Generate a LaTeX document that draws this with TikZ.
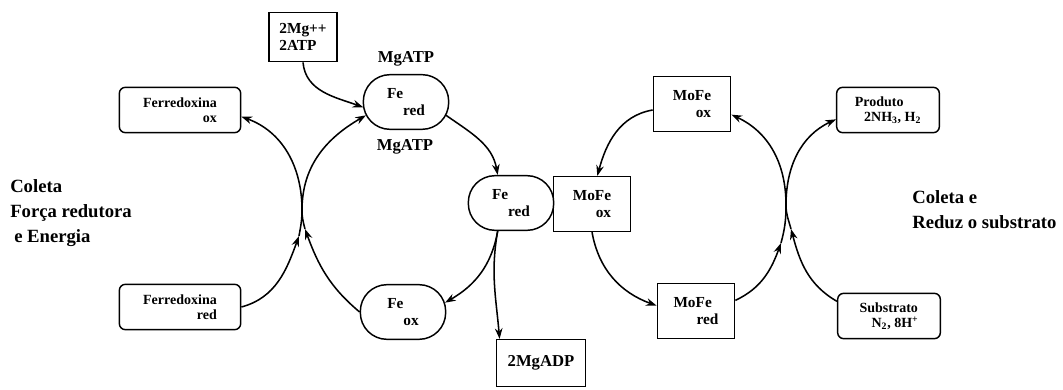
\documentclass[tikz,border=0pt]{standalone}
\usepackage{fontspec}
\setmainfont{Liberation Serif}
\usepackage{tikz}
\usetikzlibrary{arrows.meta, positioning}

\begin{document}
\begin{tikzpicture}[x=0.75pt, y=0.75pt,
    every node/.style={font=\bfseries\fontsize{11.5}{13}\selectfont},
    softbox/.style={draw, rounded corners=4.5pt, line width=1.1pt, font=\bfseries\fontsize{10.5}{11.5}\selectfont},
    febox/.style={draw, rounded corners=20pt, line width=1.1pt, minimum width=64pt, minimum height=41pt, align=left},
    mofebox/.style={draw, line width=1.1pt, minimum width=58pt, minimum height=41pt, align=right},
    sidetext/.style={align=left, inner sep=0pt, font=\bfseries\fontsize{14}{19}\selectfont},
    flow/.style={-{Stealth[length=2.8mm, width=2mm]}, line width=1.15pt}]
  \useasboundingbox (0,0) rectangle (1063,389);

  \node[softbox, minimum width=91pt, minimum height=34pt, align=right] (fdxox) at (180,279) {Ferredoxina\\ox};
  \node[softbox, minimum width=91pt, minimum height=34pt, align=right] (fdxred) at (180,82) {Ferredoxina\\red};
  \node[draw, line width=1.1pt, minimum width=51pt, minimum height=37pt, align=left] (mgin) at (303,352) {2Mg++\\2ATP};
  \node[febox] (fetop) at (406,287) {Fe\\\hspace*{12pt}red};
  \node[font=\bfseries\fontsize{12.5}{13}\selectfont] (mgatpup) at (406,330) {MgATP};
  \node[font=\bfseries\fontsize{12.5}{13}\selectfont] (mgatpdown) at (405,242) {MgATP};
  \node[febox] (femid) at (511,186) {Fe\\\hspace*{12pt}red};
  \node[febox] (feox) at (403,77) {Fe\\\hspace*{12pt}ox};
  \node[draw, line width=1.1pt, minimum width=67pt, minimum height=35pt, font=\bfseries\fontsize{12.5}{13}\selectfont] (adp) at (541,26) {2MgADP};
  \node[mofebox] (mofetop) at (692,285) {MoFe\\ox};
  \node[mofebox] (mofemid) at (592,185) {MoFe\\ox};
  \node[mofebox] (mofered) at (696,78) {MoFe\hspace*{5pt}\\red};
  \node[softbox, minimum width=77pt, minimum height=34pt, align=left] (prod) at (888,279) {Produto\\\hspace*{7pt}2NH\textsubscript{3}, H\textsubscript{2}};
  \node[softbox, minimum width=77pt, minimum height=34pt, align=left] (subs) at (889,73) {Substrato\\\hspace*{9pt}N\textsubscript{2}, 8H\textsuperscript{+}};
  \node[sidetext, anchor=north west] (leftnote) at (10,210) {Coleta\\Força redutora\\\hspace*{3pt}e Energia};
  \node[sidetext, anchor=north west] (rightnote) at (912,199) {Coleta e\\Reduz o substrato};

  \coordinate (crossL) at (302,179);
  \coordinate (tipLa) at (299,153);
  \coordinate (tipLb) at (305,160);
  \coordinate (crossR) at (786,184);
  \coordinate (tipRa) at (781,146);
  \coordinate (tipRb) at (791,160);

  \draw[flow] (fdxred.east) to[out=15, in=-110] (tipLa);
  \draw[flow] (tipLa) to[out=80, in=-90] (crossL) to[out=90, in=210] ([shift={(2.5pt,-10pt)}]fetop.west);
  \draw[flow] (feox.west) to[out=140, in=-70] (tipLb);
  \draw[flow] (tipLb) to[out=105, in=-90] (crossL) to[out=90, in=-20] ([yshift=-5pt]fdxox.east);
  \draw[flow] (mgin.south) to[out=-85, in=160] ([shift={(0.5pt,-4pt)}]fetop.west);
  \draw[flow] ([shift={(-2.5pt,-10pt)}]fetop.east) to[out=-35, in=100] ([xshift=-10pt]femid.north);
  \draw[flow] ([xshift=-10pt]femid.south) to[out=-100, in=30] ([shift={(-1pt,7pt)}]feox.east);
  \draw[flow] ([xshift=-10pt]femid.south) to[out=-100, in=95] ([xshift=3pt]adp.north west);

  \draw[flow] ([yshift=-4.5pt]mofetop.west) to[out=190, in=75] ([xshift=4pt]mofemid.north);
  \draw[flow] (mofemid.south) to[out=-80, in=160] ([yshift=4pt]mofered.west);
  \draw[flow] ([yshift=8pt]mofered.east) to[out=25, in=-110] (tipRa);
  \draw[flow] (tipRa) to[out=75, in=-90] (crossR) to[out=90, in=205] ([yshift=-7pt]prod.west);
  \draw[flow] ([yshift=11pt]subs.west) to[out=150, in=-75] (tipRb);
  \draw[flow] (tipRb) to[out=105, in=-90] (crossR) to[out=90, in=-25] ([yshift=-8pt]mofetop.east);
\end{tikzpicture}
\end{document}
